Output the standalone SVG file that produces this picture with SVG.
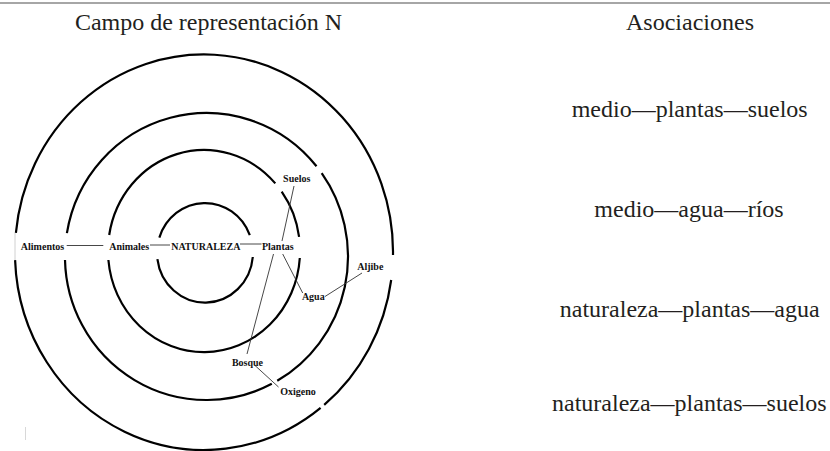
<svg xmlns="http://www.w3.org/2000/svg" width="830" height="451" viewBox="0 0 830 451">
<style>
.ring{fill:none;stroke:#000;stroke-width:2.2}
.lbl{font-family:"Liberation Serif",serif;font-weight:bold;font-size:10px;fill:#111;text-anchor:middle}
.big{font-family:"Liberation Serif",serif;font-size:24px;fill:#231f20;text-anchor:middle}
.con{stroke:#333;stroke-width:0.9;fill:none}
</style>
<rect width="830" height="451" fill="#fff"/>
<line x1="0" y1="3" x2="830" y2="3" stroke="#a6a6a6" stroke-width="2"/>
<text class="big" x="208.5" y="30">Campo de representación N</text>
<text class="big" x="690" y="30">Asociaciones</text>
<g id="rings">
<path class="ring" d="M391.2,280 A189,197.5 0 0 1 324.2,404.9 M320.6,407.9 A189,197.5 0 0 1 15.1,260.1 M15.9,232.9 A189,197.5 0 0 1 393,254.9"/>
<path class="ring" d="M321.7,173.2 A141.5,143.5 0 0 1 277.25,380.8 M271.8,383.8 A141.5,143.5 0 0 1 65,260 M66.9,233.1 A141.5,143.5 0 0 1 316.5,166.2"/>
<path class="ring" d="M299.8,258 A96,101 0 0 1 108.4,260 M109.2,235 A96,101 0 0 1 275.3,183.4 M281.7,191.6 A96,101 0 0 1 299.1,236.9"/>
<path class="ring" d="M252.8,257 A48,50 0 0 1 157.4,259.1 M159.35,237.55 A48,50 0 0 1 249.8,235.1"/>
<line x1="15" y1="233" x2="15" y2="260" stroke="#d0d0d0" stroke-width="1"/>
<line x1="25.5" y1="427" x2="25.5" y2="440" stroke="#d8d8d8" stroke-width="1"/>
</g>
<g id="connectors">
<line class="con" x1="66.7" y1="245.5" x2="103.3" y2="245.5"/>
<line class="con" x1="150" y1="245" x2="170" y2="245"/>
<line class="con" x1="240" y1="244" x2="261.5" y2="244" stroke-width="1.3"/>
<line class="con" x1="294" y1="186" x2="282" y2="241"/>
<line class="con" x1="273.5" y1="254" x2="247" y2="354"/>
<line class="con" x1="282.7" y1="254" x2="302.7" y2="293"/>
<line class="con" x1="325" y1="296.5" x2="362" y2="273"/>
<line class="con" x1="255" y1="365.5" x2="278.5" y2="387"/>
</g>
<g id="n-alimentos"><text class="lbl" x="42.5" y="249.5">Alimentos</text></g>
<g id="n-animales"><text class="lbl" x="129.2" y="249.5">Animales</text></g>
<g id="n-naturaleza"><text class="lbl" x="205.8" y="249.5">NATURALEZA</text></g>
<g id="n-plantas"><text class="lbl" x="277.8" y="249.5">Plantas</text></g>
<g id="n-suelos"><text class="lbl" x="296.7" y="181.5">Suelos</text></g>
<g id="n-aljibe"><text class="lbl" x="370.3" y="269.5">Aljibe</text></g>
<g id="n-agua"><text class="lbl" x="313.3" y="300">Agua</text></g>
<g id="n-bosque"><text class="lbl" x="247.5" y="366">Bosque</text></g>
<g id="n-oxigeno"><text class="lbl" x="298" y="395">Oxigeno</text></g>
<g id="assoc">
<text class="big" x="689.7" y="116.7">medio—plantas—suelos</text>
<text class="big" x="689" y="216.7">medio—agua—ríos</text>
<text class="big" x="689.7" y="316.7">naturaleza—plantas—agua</text>
<text class="big" x="689.3" y="410.5">naturaleza—plantas—suelos</text>
</g>
</svg>
